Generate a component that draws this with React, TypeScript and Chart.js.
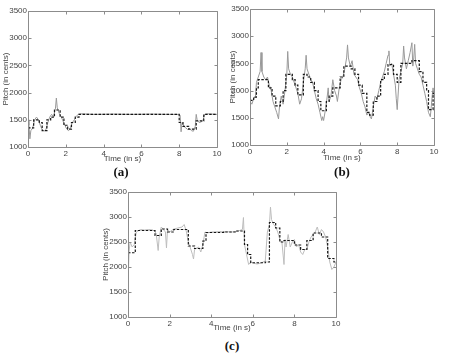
import React, { useEffect, useRef } from 'react';
import { Chart, registerables } from 'chart.js';

Chart.register(...registerables);

type P = [number, number];

const xTicks = [0, 2, 4, 6, 8, 10];
const yTicks = [1000, 1500, 2000, 2500, 3000, 3500];
const xTitle = 'Time (in s)';
const yTitle = 'Pitch (in cents)';
const panelLabels = ['(a)', '(b)', '(c)'];

// Panel (a): raw pitch contour (gray) and quantized steps (black dashed)
const aRaw: P[] = [
  [0, 1500], [0.05, 1400], [0.1, 1150], [0.15, 1300], [0.25, 1350], [0.35, 1500], [0.45, 1550],
  [0.55, 1500], [0.65, 1400], [0.75, 1320], [0.85, 1290], [0.95, 1320], [1.05, 1450], [1.15, 1550],
  [1.25, 1600], [1.35, 1560], [1.45, 1700], [1.5, 1900], [1.55, 1720], [1.65, 1620], [1.75, 1560],
  [1.85, 1480], [1.95, 1400], [2.05, 1330], [2.15, 1300], [2.25, 1360], [2.35, 1450], [2.45, 1500],
  [2.55, 1560], [2.65, 1600], [2.8, 1610], [3.5, 1600], [4.5, 1605], [5.5, 1600], [6.5, 1605],
  [7.5, 1600], [8.0, 1600], [8.05, 1580], [8.1, 1280], [8.15, 1450], [8.25, 1380], [8.35, 1350],
  [8.45, 1320], [8.55, 1340], [8.65, 1300], [8.75, 1290], [8.85, 1380], [8.9, 1600], [8.95, 1500],
  [9.05, 1450], [9.15, 1460], [9.25, 1480], [9.35, 1600], [9.5, 1610], [10, 1600],
];
const aStep: P[] = [
  [0, 1350], [0.3, 1500], [0.6, 1450], [0.75, 1300], [1.0, 1500], [1.2, 1550], [1.4, 1680],
  [1.7, 1550], [1.9, 1400], [2.1, 1330], [2.3, 1450], [2.5, 1550], [2.7, 1600], [8.0, 1450],
  [8.2, 1380], [8.5, 1330], [8.9, 1480], [9.3, 1600], [10, 1600],
];

// Panel (b)
const bRaw: P[] = [
  [0, 1800], [0.1, 1750], [0.2, 1850], [0.3, 1900], [0.35, 2150], [0.45, 2250], [0.55, 2350],
  [0.6, 2700], [0.65, 2350], [0.75, 2250], [0.85, 2200], [0.95, 2250], [1.05, 2100], [1.15, 2000],
  [1.25, 1800], [1.35, 1700], [1.45, 1600], [1.55, 1480], [1.6, 1700], [1.7, 1900], [1.8, 1750],
  [1.9, 2000], [2.0, 2300], [2.05, 2720], [2.1, 2400], [2.2, 2300], [2.3, 2250], [2.4, 2150],
  [2.5, 2050], [2.6, 1950], [2.7, 1750], [2.8, 1850], [2.9, 2150], [3.0, 2400], [3.05, 2650],
  [3.1, 2400], [3.2, 2300], [3.3, 2200], [3.4, 2150], [3.5, 2000], [3.6, 1850], [3.7, 1750],
  [3.8, 1600], [3.9, 1450], [3.95, 1520], [4.0, 1450], [4.1, 1650], [4.2, 1900], [4.25, 2050],
  [4.3, 1800], [4.4, 1900], [4.5, 2200], [4.6, 2000], [4.7, 1900], [4.75, 1800], [4.85, 2050],
  [4.95, 2200], [5.05, 2250], [5.15, 2400], [5.25, 2600], [5.3, 2840], [5.35, 2600], [5.45, 2450],
  [5.55, 2550], [5.65, 2300], [5.75, 2250], [5.85, 2200], [5.95, 2050], [6.05, 1950], [6.15, 1800],
  [6.25, 1700], [6.35, 1550], [6.45, 1600], [6.55, 1500], [6.6, 1480], [6.7, 1700], [6.8, 1900],
  [6.9, 1850], [7.0, 2000], [7.1, 2150], [7.2, 2250], [7.3, 2350], [7.4, 2500], [7.5, 2650],
  [7.55, 2730], [7.6, 2450], [7.7, 2500], [7.8, 2300], [7.9, 2100], [7.95, 1850], [8.0, 1650],
  [8.1, 2200], [8.2, 2350], [8.3, 2500], [8.35, 2820], [8.4, 2600], [8.5, 2400], [8.6, 2550],
  [8.7, 2700], [8.8, 2880], [8.85, 2450], [8.9, 2600], [8.95, 2850], [9.0, 2500], [9.1, 2400],
  [9.2, 2300], [9.3, 2250], [9.4, 2100], [9.5, 1950], [9.6, 1800], [9.7, 1600], [9.8, 1520],
  [9.85, 1700], [9.9, 1900], [9.95, 2050], [10, 1900],
];
const bStep: P[] = [
  [0, 1820], [0.2, 1880], [0.35, 2050], [0.45, 2200], [1.0, 2050], [1.2, 1900], [1.4, 1720],
  [1.65, 1800], [1.8, 2000], [1.95, 2300], [2.3, 2200], [2.45, 2100], [2.6, 1920], [2.9, 2300],
  [3.1, 2250], [3.3, 2150], [3.5, 2000], [3.7, 1800], [3.85, 1630], [4.15, 1800], [4.3, 1900],
  [4.5, 2050], [4.9, 2250], [5.1, 2450], [5.5, 2400], [5.7, 2300], [5.9, 2100], [6.1, 1950],
  [6.35, 1600], [6.5, 1550], [6.7, 1800], [6.9, 1900], [7.1, 2200], [7.3, 2300], [7.5, 2480],
  [7.8, 2300], [8.0, 2150], [8.2, 2500], [8.8, 2550], [9.2, 2350], [9.4, 2150], [9.6, 2000],
  [9.7, 1650], [9.95, 1950], [10, 1950],
];

// Panel (c)
const cRaw: P[] = [
  [0, 1650], [0.05, 2300], [0.1, 2500], [0.2, 2400], [0.3, 2450], [0.4, 2700], [0.6, 2750],
  [0.8, 2740], [1.0, 2750], [1.2, 2740], [1.35, 2680], [1.45, 2330], [1.5, 2600], [1.6, 2800],
  [1.7, 2750], [1.8, 2700], [1.85, 2380], [1.9, 2750], [2.0, 2700], [2.2, 2760], [2.4, 2780],
  [2.6, 2800], [2.7, 2850], [2.8, 2720], [2.9, 2500], [3.0, 2380], [3.1, 2250], [3.15, 2160],
  [3.2, 2350], [3.3, 2380], [3.4, 2400], [3.5, 2300], [3.6, 2450], [3.7, 2700], [3.8, 2680],
  [4.0, 2700], [4.5, 2710], [5.0, 2700], [5.3, 2720], [5.5, 2750], [5.55, 2990], [5.6, 2450],
  [5.7, 2250], [5.8, 2050], [5.9, 2100], [6.0, 2080], [6.2, 2060], [6.4, 2080], [6.6, 2120],
  [6.7, 2700], [6.8, 2850], [6.85, 3200], [6.9, 2950], [7.0, 2850], [7.1, 2800], [7.2, 2700],
  [7.3, 2550], [7.4, 2500], [7.5, 2050], [7.55, 2550], [7.6, 2400], [7.7, 2650], [7.8, 2400],
  [7.9, 2500], [8.0, 2550], [8.1, 2400], [8.2, 2450], [8.3, 2300], [8.4, 2250], [8.5, 2350],
  [8.6, 2350], [8.7, 2500], [8.8, 2600], [8.9, 2650], [9.0, 2700], [9.1, 2800], [9.2, 2650],
  [9.3, 2750], [9.4, 2700], [9.5, 2600], [9.6, 2400], [9.7, 2100], [9.8, 1950], [9.9, 2000],
  [10, 2100],
];
const cStep: P[] = [
  [0, 2285], [0.35, 2730], [1.3, 2630], [1.6, 2760], [1.9, 2700], [2.2, 2750], [2.9, 2420],
  [3.2, 2370], [3.6, 2520], [3.75, 2690], [4.6, 2700], [5.2, 2720], [5.6, 2450], [5.75, 2250],
  [5.9, 2085], [6.6, 2100], [6.8, 2890], [7.1, 2780], [7.3, 2500], [7.5, 2530], [8.0, 2440],
  [8.3, 2350], [8.6, 2530], [8.9, 2680], [9.3, 2600], [9.6, 2170], [9.9, 2100], [10, 2100],
];

const textColor = '#444';
const tickFont = { family: 'Liberation Sans, Arial, sans-serif', size: 8 };

const boxPlugin = {
  id: 'matlabBox',
  afterDatasetsDraw(chart: any) {
    const { ctx, chartArea } = chart;
    const l = Math.round(chartArea.left) + 0.5;
    const r = Math.round(chartArea.right) + 0.5;
    const t = Math.round(chartArea.top) + 0.5;
    const b = Math.round(chartArea.bottom) + 0.5;
    const xs = chart.scales.x;
    const ys = chart.scales.y;
    ctx.save();
    ctx.strokeStyle = '#8c8c8c';
    ctx.lineWidth = 1;
    ctx.beginPath();
    ctx.rect(l, t, r - l, b - t);
    xs.ticks.forEach((tk: any) => {
      const px = Math.round(xs.getPixelForValue(tk.value)) + 0.5;
      ctx.moveTo(px, b);
      ctx.lineTo(px, b - 3);
      ctx.moveTo(px, t);
      ctx.lineTo(px, t + 3);
    });
    ys.ticks.forEach((tk: any) => {
      const py = Math.round(ys.getPixelForValue(tk.value)) + 0.5;
      ctx.moveTo(l, py);
      ctx.lineTo(l + 3, py);
      ctx.moveTo(r, py);
      ctx.lineTo(r - 3, py);
    });
    ctx.stroke();
    ctx.restore();
  },
};

type Box = { left: number; top: number; right: number; bottom: number; xtpb: number; ytpt: number };

function Panel(props: { raw: P[]; step: P[]; rawColor: string; w: number; h: number; x: number; y: number; box: Box }) {
  const ref = useRef<HTMLCanvasElement | null>(null);
  const { raw, step, rawColor, w, h, x, y, box } = props;
  useEffect(() => {
    if (!ref.current) return;
    const chart = new Chart(ref.current, {
      type: 'line',
      data: {
        datasets: [
          {
            data: step.map(([t, v]) => ({ x: t, y: v })),
            borderColor: '#161616',
            borderWidth: 1.2,
            borderDash: [2.5, 1.5],
            stepped: true,
            pointRadius: 0,
            fill: false,
          },
          {
            data: raw.map(([t, v]) => ({ x: t, y: v })),
            borderColor: rawColor,
            borderWidth: 1,
            pointRadius: 0,
            tension: 0,
            fill: false,
          },
        ],
      },
      options: {
        animation: false,
        responsive: false,
        devicePixelRatio: 1,
        layout: { padding: { top: box.top, right: w - box.right, left: 0, bottom: 0 } },
        plugins: { legend: { display: false }, tooltip: { enabled: false } },
        scales: {
          x: {
            type: 'linear',
            min: 0,
            max: 10,
            afterBuildTicks: (s: any) => {
              s.ticks = xTicks.map((v) => ({ value: v }));
            },
            afterFit: (s: any) => {
              s.height = h - box.bottom;
            },
            grid: { display: false, drawTicks: false },
            border: { display: false },
            ticks: {
              padding: 2,
              font: tickFont,
              color: textColor,
              maxRotation: 0,
              autoSkip: false,
              callback: (v: any) => String(v),
            },
            title: { display: true, text: xTitle, font: tickFont, color: textColor, padding: { top: 0, bottom: box.xtpb } },
          },
          y: {
            type: 'linear',
            min: 1000,
            max: 3500,
            afterBuildTicks: (s: any) => {
              s.ticks = yTicks.map((v) => ({ value: v }));
            },
            afterFit: (s: any) => {
              s.width = box.left;
            },
            grid: { display: false, drawTicks: false },
            border: { display: false },
            ticks: {
              padding: 1,
              font: tickFont,
              color: textColor,
              autoSkip: false,
              callback: (v: any) => String(v),
            },
            title: { display: true, text: yTitle, font: tickFont, color: textColor, padding: { top: box.ytpt, bottom: 0 } },
          },
        },
      } as any,
      plugins: [boxPlugin],
    });
    return () => chart.destroy();
  }, []);
  return (
    <canvas
      ref={ref}
      width={w}
      height={h}
      style={{ position: 'absolute', left: x, top: y, width: w, height: h }}
    />
  );
}

const labelStyle = (cx: number, cy: number): React.CSSProperties => ({
  position: 'absolute',
  left: cx,
  top: cy,
  transform: 'translate(-50%, -50%)',
  font: 'bold 13px "Liberation Serif", "Times New Roman", serif',
  color: '#111',
  whiteSpace: 'nowrap',
});

export default function App() {
  return (
    <div style={{ position: 'fixed', left: 0, top: 0, width: 462, height: 358, background: '#fff', overflow: 'hidden' }}>
      <Panel raw={aRaw} step={aStep} rawColor="#999999" x={0} y={0} w={226} h={168}
        box={{ left: 28, top: 11, right: 217, bottom: 147, xtpb: 4, ytpt: 1 }} />
      <Panel raw={bRaw} step={bStep} rawColor="#999999" x={228} y={0} w={234} h={168}
        box={{ left: 22, top: 9, right: 206, bottom: 145, xtpb: 5, ytpt: 0 }} />
      <Panel raw={cRaw} step={cStep} rawColor="#bdbdbd" x={100} y={180} w={250} h={158}
        box={{ left: 28, top: 12, right: 236, bottom: 137, xtpb: 5, ytpt: 1 }} />
      <div style={labelStyle(121, 172)}>{panelLabels[0]}</div>
      <div style={labelStyle(342, 172)}>{panelLabels[1]}</div>
      <div style={labelStyle(232, 346)}>{panelLabels[2]}</div>
    </div>
  );
}
